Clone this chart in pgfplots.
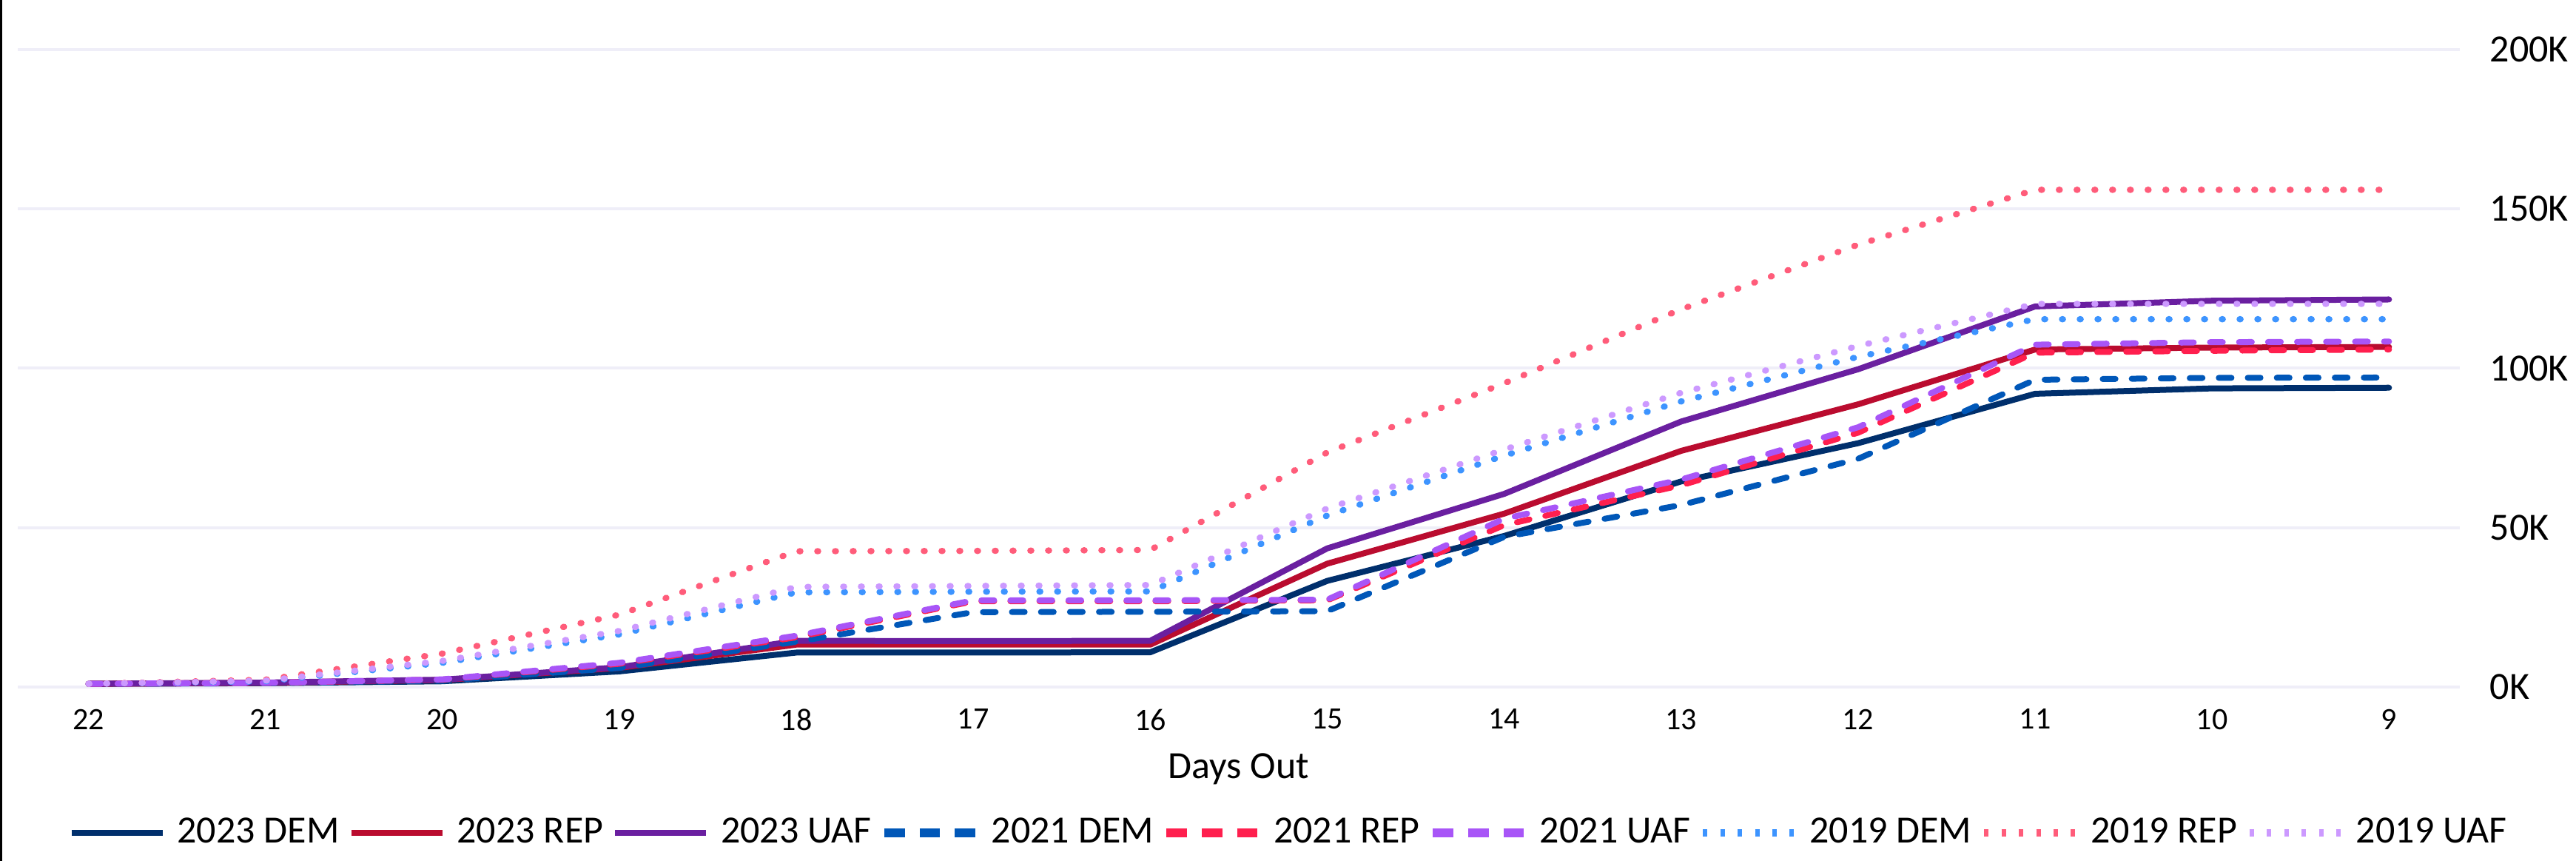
\documentclass[border=0pt]{standalone}
\usepackage{fontspec}
\setmainfont{Carlito}
\usepackage{pgfplots}
\pgfplotsset{compat=1.18}
\usepackage{pgfplotstable}

\definecolor{cDdem}{HTML}{002F6C}
\definecolor{cDrep}{HTML}{BA0C2F}
\definecolor{cDuaf}{HTML}{6A1FA0}
\definecolor{cBdem}{HTML}{0057B8}
\definecolor{cBrep}{HTML}{FF1F4E}
\definecolor{cBuaf}{HTML}{A855F7}
\definecolor{cCdem}{HTML}{3D94FF}
\definecolor{cCrep}{HTML}{FF5C7A}
\definecolor{cCuaf}{HTML}{CC99FF}
\definecolor{gridc}{HTML}{EFEEF8}

\pgfplotstableread{
day d23 r23 u23 d21 r21 u21 d19 r19 u19
22 1.0 1.0 1.0 1.0 1.0 1.0 1.0 1.0 1.0
21 1.2 1.3 1.4 1.2 1.3 1.3 1.8 2.3 2.0
20 1.8 2.2 2.3 2.0 2.3 2.4 7.6 10.5 8.2
19 4.9 6.0 6.2 6.0 7.3 7.6 16.5 22.7 17.6
18 10.8 13.3 14.5 14.2 15.6 16.1 29.7 42.6 31.4
17 10.8 13.3 14.4 23.5 26.9 27.2 29.9 42.7 31.7
16 10.9 13.3 14.5 23.6 26.9 27.2 30.0 43.0 32.0
15 33.3 38.7 43.5 23.8 27.2 27.4 53.8 73.6 56.0
14 47.4 54.4 60.6 47.1 50.8 52.8 72.6 95.3 74.5
13 64.5 74.1 83.3 57.1 63.3 65.1 89.6 118.5 92.3
12 76.5 88.7 99.7 71.6 79.8 81.5 103.6 138.8 107.0
11 92.0 105.9 119.4 96.4 104.9 107.4 115.4 156.0 120.2
10 93.7 106.5 121.2 97.0 105.5 108.2 115.4 156.0 120.2
9 93.9 106.7 121.6 97.1 105.9 108.4 115.4 156.0 120.2
}\datatable

\tikzset{
  solidln/.style={line width=2pt, line cap=round, line join=round},
  dashln/.style={line width=2pt, line cap=round, line join=round, dash pattern=on 4.3pt off 5.5pt},
  dotln/.style={line width=2.1pt, line cap=round, line join=round, dash pattern=on 0.3pt off 5.7pt},
}
\pgfplotsset{
  solidleg/.style={legend image code/.code={\draw[##1, line width=2pt, line cap=butt] (0pt,0pt) -- (30.75pt,0pt);}},
  dashleg/.style={legend image code/.code={\draw[##1, line width=2.8pt, line cap=butt, dash pattern=on 6.9pt off 5pt] (0pt,0pt) -- (30.75pt,0pt);}},
  dotleg/.style={legend image code/.code={\draw[##1, line width=2.5pt, line cap=butt, dash pattern=on 1.5pt off 4.35pt] (0pt,0pt) -- (30.75pt,0pt);}},
}

\begin{document}
\begin{tikzpicture}
\path[use as bounding box] (0,0) rectangle (870.25pt,290.75pt);
\fill[black] (0,0) rectangle (0.75pt,290.75pt);
\begin{axis}[
  at={(6pt,58.75pt)}, anchor=south west,
  scale only axis, width=825pt, height=215.25pt,
  x dir=reverse, xmin=8.6, xmax=22.4,
  ymin=0, ymax=200,
  xtick={9,10,...,22},
  ytick={0,50,100,150,200},
  yticklabels={0K,50K,100K,150K,200K},
  yticklabel pos=right,
  axis line style={draw=none},
  major tick length=0pt,
  ymajorgrids,
  grid style={gridc, line width=1pt},
  /pgf/number format/assume math mode=true,
  xticklabel style={font=\fontsize{10.5}{12}\selectfont, anchor=north, inner sep=0pt, yshift=-7.25pt},
  yticklabel style={font=\fontsize{13}{15}\selectfont, anchor=west, inner sep=0pt, xshift=10pt},
  xlabel={Days Out},
  xlabel style={font=\fontsize{13}{15}\selectfont, at={(axis description cs:0.5,0)}, anchor=north, inner sep=0pt, yshift=-22.25pt},
  legend columns=9,
  legend style={at={(axis description cs:0.52,-0.2288)}, anchor=center, draw=none, fill=none,
    font=\fontsize{13}{15}\selectfont, nodes={inner sep=0pt},
    /tikz/every even column/.append style={column sep=3pt},
    /tikz/every odd column/.append style={column sep=4pt}},
  legend cell align=left,
]
\addplot[solidln, solidleg, color=cDdem] table[x=day,y=d23] {\datatable}; \addlegendentry{2023 DEM}
\addplot[solidln, solidleg, color=cDrep] table[x=day,y=r23] {\datatable}; \addlegendentry{2023 REP}
\addplot[solidln, solidleg, color=cDuaf] table[x=day,y=u23] {\datatable}; \addlegendentry{2023 UAF}
\addplot[dashln, dashleg, color=cBdem] table[x=day,y=d21] {\datatable}; \addlegendentry{2021 DEM}
\addplot[dashln, dashleg, color=cBrep] table[x=day,y=r21] {\datatable}; \addlegendentry{2021 REP}
\addplot[dashln, dashleg, color=cBuaf] table[x=day,y=u21] {\datatable}; \addlegendentry{2021 UAF}
\addplot[dotln, dotleg, color=cCdem] table[x=day,y=d19] {\datatable}; \addlegendentry{2019 DEM}
\addplot[dotln, dotleg, color=cCrep] table[x=day,y=r19] {\datatable}; \addlegendentry{2019 REP}
\addplot[dotln, dotleg, color=cCuaf] table[x=day,y=u19] {\datatable}; \addlegendentry{2019 UAF}
\end{axis}
\end{tikzpicture}
\end{document}
